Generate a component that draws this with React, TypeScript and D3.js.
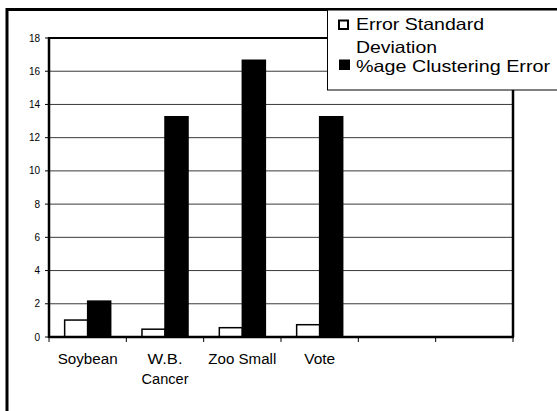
import React from "react";
import * as d3 from "d3";

const categories = ["Soybean", "W.B. Cancer", "Zoo Small", "Vote", "", ""];
const categoryLabelLines = [["Soybean"], ["W.B.", "Cancer"], ["Zoo Small"], ["Vote"], [], []];
const seriesNames = ["Error Standard Deviation", "%age Clustering Error"];
const stdDev = [1.02, 0.47, 0.56, 0.74, null, null];
const clusterErr = [2.16, 13.26, 16.66, 13.26, null, null];
const yTicks = [0, 2, 4, 6, 8, 10, 12, 14, 16, 18];

const FONT = "'Liberation Sans', Arial, Helvetica, sans-serif";

export default function App() {
  const left = 49, right = 513, top = 38, bottom = 337;
  const y = d3.scaleLinear().domain([0, 18]).range([bottom, top]);
  const x = d3.scaleBand<string>().domain(categories.map((c, i) => i + ":" + c)).range([left, right]);
  const bw = x.bandwidth();
  const xs = d3.scaleBand<string>().domain(seriesNames).range([0, bw]).paddingInner(0).paddingOuter(0.68);
  const keys = x.domain();
  const seriesValues = [stdDev, clusterErr];
  const labelWidths: Record<string, number> = { Soybean: 60, "W.B.": 35, Cancer: 47, "Zoo Small": 68, Vote: 31 };

  return (
    <svg width={557} height={411} style={{ position: "absolute", left: 0, top: 0, background: "#fff" }}>
      {/* outer frame */}
      <rect x={7} y={9.5} width={570} height={420} fill="#fff" stroke="#000" strokeWidth={3} />
      {/* gridlines */}
      {yTicks.filter(t => t > 0 && t < 18).map(t => (
        <line key={t} x1={left} x2={right} y1={y(t)} y2={y(t)} stroke="#3a3a3a" strokeWidth={1} />
      ))}
      {/* bars */}
      {seriesValues.map((vals, si) =>
        vals.map((v, ci) =>
          v == null ? null : (
            <rect
              key={si + "-" + ci}
              x={(x(keys[ci]) as number) + (xs(seriesNames[si]) as number)}
              y={y(v)}
              width={xs.bandwidth()}
              height={y(0) - y(v)}
              fill={si === 0 ? "#fff" : "#000"}
              stroke="#000"
              strokeWidth={1.5}
            />
          )
        )
      )}
      {/* plot border */}
      <line x1={left} x2={right} y1={top} y2={top} stroke="#000" strokeWidth={2} />
      <line x1={right} x2={right} y1={top} y2={bottom} stroke="#000" strokeWidth={2.5} />
      <line x1={left} x2={left} y1={top - 1} y2={bottom + 1} stroke="#000" strokeWidth={2.5} />
      <line x1={left} x2={right + 1} y1={bottom} y2={bottom} stroke="#000" strokeWidth={2.5} />
      {/* y ticks */}
      {yTicks.map(t => (
        <g key={t}>
          <line x1={left - 4} x2={left} y1={y(t)} y2={y(t)} stroke="#000" strokeWidth={1} />
          <text x={40} y={y(t) + 3.6} fontFamily={FONT} fontSize={10} textAnchor="end" fill="#000">
            {t}
          </text>
        </g>
      ))}
      {/* x ticks */}
      {[...keys.map(k => x(k) as number), right].map((px, i) => (
        <line key={i} x1={px} x2={px} y1={bottom} y2={bottom + 5} stroke="#000" strokeWidth={1} />
      ))}
      {/* category labels */}
      {categoryLabelLines.map((lines, ci) =>
        lines.map((ln, li) => (
          <text
            key={ci + "-" + li}
            x={(x(keys[ci]) as number) + bw / 2}
            y={364 + li * 20}
            fontFamily={FONT}
            fontSize={14}
            textAnchor="middle"
            fill="#000"
            textLength={labelWidths[ln]}
            lengthAdjust="spacingAndGlyphs"
          >
            {ln}
          </text>
        ))
      )}
      {/* legend */}
      <rect x={327.5} y={10} width={260} height={80} fill="#fff" stroke="#000" strokeWidth={1} />
      <rect x={339} y={20.5} width={9} height={8.5} fill="#fff" stroke="#000" strokeWidth={2} />
      <rect x={339} y={59.5} width={11} height={10.5} fill="#000" />
      <text x={356} y={30} fontFamily={FONT} fontSize={16.5} fill="#000" textLength={128} lengthAdjust="spacingAndGlyphs">
        Error Standard
      </text>
      <text x={356} y={53} fontFamily={FONT} fontSize={16.5} fill="#000" textLength={81} lengthAdjust="spacingAndGlyphs">
        Deviation
      </text>
      <text x={356} y={71.5} fontFamily={FONT} fontSize={16.5} fill="#000" textLength={194} lengthAdjust="spacingAndGlyphs">
        {seriesNames[1]}
      </text>
    </svg>
  );
}
